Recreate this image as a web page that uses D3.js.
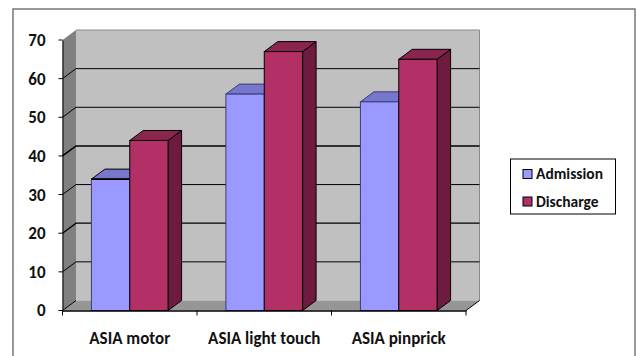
<!DOCTYPE html>
<html>
<head>
<meta charset="utf-8">
<script src="https://cdn.jsdelivr.net/npm/d3@7/dist/d3.min.js"></script>
<style>
  html, body { margin: 0; padding: 0; background: #fff; }
  svg { display: block; }
  text { font-family: Carlito, Lato, "Open Sans", sans-serif; font-weight: 700; fill: #111; }
</style>
</head>
<body>
<div id="chart"></div>
<script>
const categories = ['ASIA motor', 'ASIA light touch', 'ASIA pinprick'];
const seriesNames = ['Admission', 'Discharge'];
const admission = [34, 56, 54];
const discharge = [44, 67, 65];
const yTicks = [0, 10, 20, 30, 40, 50, 60, 70];

const colors = {
  Admission: { front: '#9999ff', top: '#7777cc', side: '#66669a', stroke: '#3a3a7a' },
  Discharge: { front: '#b23066', top: '#8a2550', side: '#6f1b3f', stroke: '#000' }
};

const width = 636, height = 356;
const svg = d3.select('#chart').append('svg')
  .attr('width', width).attr('height', height);

// depth of the fake 3D box
const dx = 13.5, dy = -10;

const x = d3.scaleBand().domain(categories).range([62.5, 466]).paddingInner(0.43).paddingOuter(0.215);
const y = d3.scaleLinear().domain([0, 70]).range([310.5, 40]);
const x1 = d3.scaleBand().domain(seriesNames).range([0, x.bandwidth()]);
const values = { Admission: admission, Discharge: discharge };

// outer frame
svg.append('path')
  .attr('d', 'M13,356V9H635V356')
  .attr('fill', 'none').attr('stroke', '#777').attr('stroke-width', 1.5);

const x0 = x.range()[0], xEnd = x.range()[1];

// back wall
svg.append('rect')
  .attr('x', x0 + dx).attr('y', y(70) + dy)
  .attr('width', xEnd - x0).attr('height', y(0) - y(70))
  .attr('fill', '#c0c0c0');
svg.append('path')
  .attr('d', `M${x0 + dx},${y(70) + dy}H${xEnd + dx}V${y(0) + dy}`)
  .attr('fill', 'none').attr('stroke', '#8a8a8a').attr('stroke-width', 1);

// left wall
svg.append('path')
  .attr('d', `M${x0},${y(0)}L${x0},${y(70)}L${x0 + dx},${y(70) + dy}L${x0 + dx},${y(0) + dy}Z`)
  .attr('fill', '#808080');

// floor
svg.append('path')
  .attr('d', `M${x0},${y(0)}L${x0 + dx},${y(0) + dy}H${xEnd + dx}L${xEnd},${y(0)}Z`)
  .attr('fill', '#969696');

// gridlines, the 40 and 20 ones come out heavier in the reference
yTicks.filter(t => t > 0 && t < 70).forEach(t => {
  svg.append('path')
    .attr('d', `M${x0},${y(t)}L${x0 + dx},${y(t) + dy}H${xEnd + dx}`)
    .attr('fill', 'none').attr('stroke', '#000')
    .attr('stroke-width', t === 40 ? 1.6 : t === 20 ? 1.3 : 1);
});

// bars
seriesNames.forEach(name => {
  const c = colors[name];
  const g = svg.append('g');
  values[name].forEach((v, i) => {
    const left = x(categories[i]) + x1(name);
    const right = left + x1.bandwidth();
    const top = y(v), base = y(0);
    g.append('path')
      .attr('d', `M${right},${base}L${right + dx},${base + dy}V${top + dy}L${right},${top}Z`)
      .attr('fill', c.side).attr('stroke', '#000').attr('stroke-width', 1);
    g.append('path')
      .attr('d', `M${left},${top}L${left + dx},${top + dy}H${right + dx}L${right},${top}Z`)
      .attr('fill', c.top).attr('stroke', name === 'Discharge' || v < 40 ? '#000' : c.stroke).attr('stroke-width', 1);
    g.append('rect')
      .attr('x', left).attr('y', top)
      .attr('width', right - left).attr('height', base - top)
      .attr('fill', c.front).attr('stroke', c.stroke).attr('stroke-width', 1);
    // heavy top edge on the short bar
    if (v < 40) {
      g.append('line').attr('x1', left).attr('x2', right)
        .attr('y1', top).attr('y2', top)
        .attr('stroke', '#000').attr('stroke-width', 1.8);
    }
  });
});

// axes
const axisLeft = d3.axisLeft(y).tickValues(yTicks).tickSize(0).tickPadding(17);
const gy = svg.append('g').attr('transform', `translate(${x0},0)`).call(axisLeft);
gy.select('.domain').attr('stroke', '#000').attr('stroke-width', 1);
gy.selectAll('text').attr('font-size', 17).attr('font-family', null);
yTicks.forEach(t => {
  svg.append('line').attr('x1', x0 - 4).attr('x2', x0)
    .attr('y1', y(t)).attr('y2', y(t)).attr('stroke', '#000');
});

const axisBottom = d3.axisBottom(x).tickSize(0).tickPadding(21);
const gx = svg.append('g').attr('transform', `translate(0,${y(0)})`).call(axisBottom);
gx.select('.domain').attr('stroke', '#000').attr('stroke-width', 1.5);
gx.selectAll('text').attr('font-size', 17).attr('font-family', null);

// category separators on the x axis
const step = x.step();
d3.range(categories.length + 1).forEach(i => {
  const px = x0 + i * step;
  svg.append('line').attr('x1', px).attr('x2', px)
    .attr('y1', y(0)).attr('y2', y(0) + 5).attr('stroke', '#000');
});
svg.append('line')
  .attr('x1', xEnd).attr('y1', y(0)).attr('x2', xEnd + dx).attr('y2', y(0) + dy)
  .attr('stroke', '#000');
svg.append('line')
  .attr('x1', x0).attr('y1', y(0)).attr('x2', x0 + dx).attr('y2', y(0) + dy)
  .attr('stroke', '#000');

// legend
const legend = svg.append('g').attr('transform', 'translate(510.5,159)');
legend.append('rect').attr('width', 105).attr('height', 55)
  .attr('fill', '#fff').attr('stroke', '#000');
seriesNames.forEach((name, i) => {
  const row = legend.append('g').attr('transform', `translate(12.5,${14.5 + i * 27.5})`);
  row.append('rect').attr('x', 0).attr('y', -4).attr('width', 9).attr('height', 9)
    .attr('fill', colors[name].front).attr('stroke', '#000').attr('stroke-width', 1);
  row.append('text').attr('x', 13).attr('y', 5.5).attr('font-size', 15.5).text(name);
});
</script>
</body>
</html>
